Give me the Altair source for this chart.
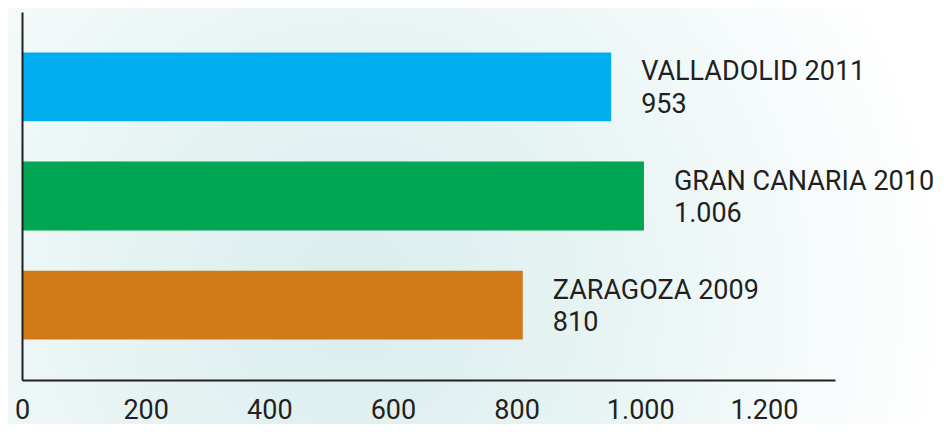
import altair as alt
import pandas as pd

cities = ["VALLADOLID 2011", "GRAN CANARIA 2010", "ZARAGOZA 2009"]
values = [953, 1006, 810]
value_labels = ["953", "1.006", "810"]
bar_colors = ["#00AEEF", "#00A651", "#D17A18"]
x_ticks = [0, 200, 400, 600, 800, 1000, 1200]

df = pd.DataFrame({
    "city": cities,
    "value": values,
    "vlabel": value_labels,
    "color": bar_colors,
})

W, H = 813, 368
FONT = "Roboto"
TXT = "#231F20"

y_enc = alt.Y("city:N", sort=cities,
              scale=alt.Scale(paddingInner=0.37, paddingOuter=0.37),
              axis=alt.Axis(labels=False, ticks=False, domain=True, title=None,
                            domainColor=TXT, domainWidth=2, grid=False, zindex=2))
x_enc = alt.X("value:Q",
              scale=alt.Scale(domain=[0, 1315], nice=False, zero=True),
              axis=alt.Axis(values=x_ticks, ticks=False, grid=False, title=None,
                            domainColor=TXT, domainWidth=2, zindex=2,
                            labelExpr="replace(format(datum.value, ','), ',', '.')",
                            labelFont=FONT, labelFontSize=27, labelColor=TXT,
                            labelBaseline="alphabetic",
                            labelPadding=38, labelFlush=False))

bg = alt.Chart(pd.DataFrame({"k": [0]})).mark_rect(
    fill={
        "gradient": "radial",
        "x1": 0.37, "y1": 0.58, "r1": 0,
        "x2": 0.37, "y2": 0.58, "r2": 0.62,
        "stops": [
            {"offset": 0, "color": "#d9eded"},
            {"offset": 0.45, "color": "#e8f4f4"},
            {"offset": 1, "color": "#ffffff"},
        ],
    }
).encode(x=alt.value(-22), x2=alt.value(W + 120), y=alt.value(-12), y2=alt.value(H + 60))

bars = alt.Chart(df).mark_bar().encode(
    x=x_enc, y=y_enc, color=alt.Color("color:N", scale=None)
)

line1 = alt.Chart(df).mark_text(
    align="left", baseline="alphabetic", dx=30, dy=-6.5,
    font=FONT, fontSize=27, color=TXT
).encode(x="value:Q", y=alt.Y("city:N", sort=cities), text="city:N")

line2 = alt.Chart(df).mark_text(
    align="left", baseline="alphabetic", dx=30, dy=26,
    font=FONT, fontSize=27, color=TXT
).encode(x="value:Q", y=alt.Y("city:N", sort=cities), text="vlabel:N")

chart = alt.layer(bg, bars, line1, line2).properties(
    width=W, height=H,
    autosize=alt.AutoSizeParams(type="none"),
    padding={"left": 14, "top": 4, "right": 101, "bottom": 44},
    background="#ffffff",
).configure_view(stroke=None)

chart.save("out.html", embed_options={"renderer": "svg", "actions": False})
